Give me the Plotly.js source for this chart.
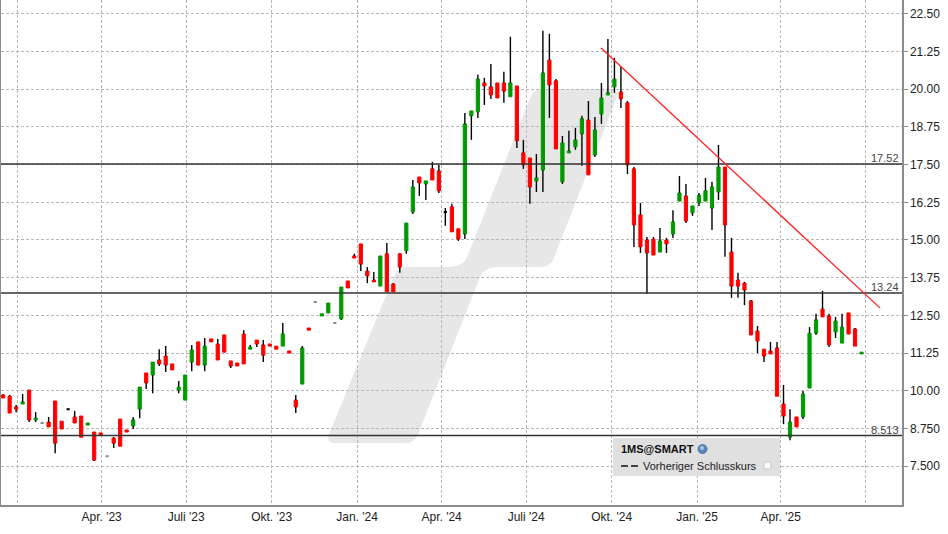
<!DOCTYPE html>
<html><head><meta charset="utf-8">
<script src="https://cdn.plot.ly/plotly-3.0.1.min.js"></script>
<style>html,body{margin:0;padding:0;background:#fff}#chart{width:948px;height:534px}</style>
</head><body><div id="chart"></div>
<script>
// ---- data (weekly candles) ----
const dates = [
'2022-12-16','2022-12-23','2022-12-30',
'2023-01-06','2023-01-13','2023-01-20','2023-01-27','2023-02-03','2023-02-10','2023-02-17','2023-02-24',
'2023-03-03','2023-03-10','2023-03-17','2023-03-24','2023-03-31','2023-04-07','2023-04-14','2023-04-21','2023-04-28',
'2023-05-05','2023-05-12','2023-05-19','2023-05-26','2023-06-02','2023-06-09','2023-06-16','2023-06-23','2023-06-30',
'2023-07-07','2023-07-14','2023-07-21','2023-07-28','2023-08-04','2023-08-11','2023-08-18','2023-08-25',
'2023-09-01','2023-09-08','2023-09-15','2023-09-22','2023-09-29','2023-10-06','2023-10-13','2023-10-20','2023-10-27',
'2023-11-03','2023-11-10','2023-11-17','2023-11-24','2023-12-01','2023-12-08','2023-12-15','2023-12-22','2023-12-29',
'2024-01-05','2024-01-12','2024-01-19','2024-01-26','2024-02-02','2024-02-09','2024-02-16','2024-02-23',
'2024-03-01','2024-03-08','2024-03-15','2024-03-22','2024-03-29','2024-04-05','2024-04-12','2024-04-19','2024-04-26',
'2024-05-03','2024-05-10','2024-05-17','2024-05-24','2024-05-31','2024-06-07','2024-06-14','2024-06-21','2024-06-28',
'2024-07-05','2024-07-12','2024-07-19','2024-07-26','2024-08-02','2024-08-09','2024-08-16','2024-08-23','2024-08-30',
'2024-09-06','2024-09-13','2024-09-20','2024-09-27','2024-10-04','2024-10-11','2024-10-18','2024-10-25',
'2024-11-01','2024-11-08','2024-11-15','2024-11-22','2024-11-29','2024-12-06','2024-12-13','2024-12-20','2024-12-27',
'2025-01-03','2025-01-10','2025-01-17','2025-01-24','2025-01-31','2025-02-07','2025-02-14','2025-02-21','2025-02-28',
'2025-03-07','2025-03-14','2025-03-21','2025-03-28','2025-04-04','2025-04-11','2025-04-18','2025-04-25',
'2025-05-02','2025-05-09','2025-05-16','2025-05-23','2025-05-30','2025-06-06','2025-06-13','2025-06-20','2025-06-27'];

const open = [
9.86,9.82,9.46,9.56,10.02,9.03,8.93,8.96,9.66,8.99,
9.39,9.13,9.16,8.86,8.63,8.60,7.83,8.43,9.06,8.70,
8.83,9.39,10.59,10.52,11.02,11.15,10.89,10.02,9.69,10.95,
11.62,10.85,11.72,11.55,11.85,10.99,10.92,11.88,11.38,11.68,
11.52,11.55,11.48,11.48,11.32,9.69,10.22,12.08,12.94,12.48,
12.58,12.25,12.38,13.64,14.47,14.87,13.97,13.67,13.47,14.54,
13.54,14.54,14.64,15.93,17.09,16.86,17.36,17.29,15.93,16.10,
15.37,15.20,19.12,19.25,20.21,20.08,20.21,20.21,19.75,20.11,
17.89,17.72,16.96,17.32,20.97,20.28,16.93,17.89,18.09,18.52,
18.98,17.82,19.18,19.81,20.08,19.91,19.55,17.36,15.83,15.00,
15.03,14.60,15.00,15.20,16.29,16.46,15.90,16.23,16.29,16.06,
16.59,17.42,14.60,13.67,13.57,12.98,11.98,11.38,11.32,11.42,
9.56,8.46,9.13,9.13,10.09,11.91,12.71,12.48,11.95,11.58,
12.58,12.05,11.22];

const high = [
9.88,9.86,9.53,9.89,10.03,9.29,8.93,9.13,9.66,8.99,
9.40,9.33,9.16,8.93,8.63,8.60,7.83,8.46,9.06,8.70,
9.13,10.12,10.59,10.95,11.38,11.48,10.89,10.32,10.52,11.52,
11.62,11.75,11.72,11.72,11.85,10.99,10.92,12.01,11.52,11.68,
11.68,11.55,11.48,12.25,11.32,9.86,11.48,12.08,12.94,12.55,
12.91,12.25,13.44,13.64,14.54,14.87,14.10,13.94,14.47,14.90,
13.57,14.57,15.56,16.99,17.09,16.96,17.59,17.49,16.06,16.20,
15.37,19.21,19.28,20.48,20.38,20.84,20.21,20.58,21.74,20.11,
18.32,17.72,17.85,21.94,21.84,20.34,18.45,18.62,18.72,19.12,
19.61,19.08,20.21,21.67,21.04,20.74,19.61,17.42,16.23,15.10,
15.10,15.40,15.07,15.99,17.12,16.86,16.13,16.56,17.06,16.93,
18.15,17.42,15.07,13.91,13.61,13.01,12.15,11.38,11.62,11.62,
10.19,9.39,9.13,9.99,12.11,12.55,13.31,12.55,12.45,12.55,
12.58,12.08,11.28];

const low = [
9.76,9.26,9.29,9.56,8.96,8.96,8.93,8.80,7.93,8.73,
9.38,8.93,8.46,8.86,7.67,8.53,7.83,8.10,8.16,8.63,
8.73,9.09,10.06,9.92,10.82,10.62,10.69,9.92,9.69,10.65,
10.85,10.65,11.62,11.02,11.28,10.75,10.82,10.89,11.38,11.45,
10.95,11.48,11.38,11.48,11.25,9.26,10.22,12.01,12.94,12.48,
12.58,12.25,12.35,13.41,14.40,13.97,13.57,13.61,13.47,13.28,
13.28,13.91,14.54,15.86,16.46,16.33,16.99,16.56,15.47,15.27,
14.97,15.03,18.32,19.05,19.48,19.68,19.71,19.55,19.75,18.05,
17.36,16.20,16.59,16.59,19.05,18.02,16.86,17.89,17.99,17.46,
17.16,17.75,18.85,19.81,19.88,19.38,17.19,14.77,14.57,13.21,
14.50,14.60,14.57,15.07,16.29,15.56,15.80,16.13,16.29,15.33,
16.33,14.44,13.08,13.08,12.84,11.85,11.25,10.95,11.22,9.82,
8.89,8.36,8.80,9.06,10.09,11.85,12.45,11.45,11.75,11.58,
11.88,11.48,11.22];

const close = [
9.76,9.26,9.39,9.63,9.03,9.09,8.93,8.80,8.26,8.73,
9.39,8.93,8.46,8.93,7.70,8.53,7.83,8.26,8.16,8.63,
9.03,10.12,10.26,10.95,10.89,10.85,10.69,10.12,10.52,11.35,
10.85,11.48,11.62,11.02,11.28,10.82,10.82,10.89,11.45,11.55,
11.18,11.48,11.38,11.88,11.25,9.46,11.42,12.01,12.94,12.55,
12.91,12.25,13.44,13.41,14.40,14.20,13.81,13.61,14.47,13.28,
13.28,14.10,15.56,16.76,16.89,16.96,16.99,16.63,15.93,15.27,
15.03,18.85,19.28,20.34,20.11,19.81,19.71,19.94,20.21,18.29,
17.49,16.76,17.06,20.54,20.14,18.02,18.22,17.95,18.32,19.02,
17.16,18.65,19.71,19.88,20.34,19.68,17.49,15.50,14.77,14.57,
14.50,14.97,14.87,15.60,16.56,15.63,16.13,16.49,16.63,16.76,
17.42,15.50,13.47,13.47,13.34,11.85,11.65,11.15,11.22,9.82,
9.16,8.96,8.80,9.89,11.91,12.35,12.45,11.52,12.31,12.11,
11.88,11.48,11.28];

const levelValues = [17.52, 13.24, 8.513];
const levelLabels = ['17.52', '13.24', '8.513'];
const trendDates = ['2024-09-19 14:00', '2025-07-17'];
const trendValues = [21.37, 12.74];

const yTickVals = [7.5, 8.75, 10, 11.25, 12.5, 13.75, 15, 16.25, 17.5, 18.75, 20, 21.25, 22.5];
const yTickText = ['7.500','8.750','10.00','11.25','12.50','13.75','15.00','16.25','17.50','18.75','20.00','21.25','22.50'];
const xTickVals = ['2023-01-01','2023-04-01','2023-07-01','2023-10-01','2024-01-01','2024-04-01','2024-07-01','2024-10-01','2025-01-01','2025-04-01','2025-07-01'];
const xTickText = ['', "Apr. '23", "Juli '23", "Okt. '23", "Jan. '24", "Apr. '24", "Juli '24", "Okt. '24", "Jan. '25", "Apr. '25", ''];

const legendTitle = '1MS@SMART';
const legendItem = 'Vorheriger Schlusskurs';

// ---- styling / geometry ----
const UP = '#009a00', DOWN = '#ff0000', GRAY = '#8a8a8a', BLACK = '#000000';
const W = 948, H = 534, M = {l: 1, r: 46, t: 0, b: 29};
const PW = W - M.l - M.r, PH = H - M.t - M.b;
function px(x) { return (x - M.l) / PW; }
function py(y) { return (H - M.b - y) / PH; }

// wicks: upper (high -> body top) and lower (body bottom -> low), so they never cross the bodies
const wx = [], wy = [];
dates.forEach((d, i) => {
  const top = Math.max(open[i], close[i]), bot = Math.min(open[i], close[i]);
  if (high[i] > top) { wx.push(d, d, null); wy.push(high[i], top, null); }
  if (low[i] < bot) { wx.push(d, d, null); wy.push(bot, low[i], null); }
});
const traces = [{
  type: 'scatter', mode: 'lines', x: wx, y: wy,
  line: {color: '#000', width: 1.4}, hoverinfo: 'skip', showlegend: false
}];

function bodyTrace(filter, color, lw) {
  const idx = dates.map((d, i) => i).filter(filter);
  return {
    type: 'candlestick',
    x: idx.map(i => dates[i]),
    open: idx.map(i => open[i]),
    close: idx.map(i => close[i]),
    high: idx.map(i => Math.max(open[i], close[i])),
    low: idx.map(i => Math.min(open[i], close[i])),
    increasing: {line: {color: color, width: lw}, fillcolor: color},
    decreasing: {line: {color: color, width: lw}, fillcolor: color},
    whiskerwidth: 0, hoverinfo: 'skip', showlegend: false
  };
}
traces.push(bodyTrace(i => close[i] > open[i], UP, 1));
traces.push(bodyTrace(i => close[i] < open[i], DOWN, 1));
traces.push(bodyTrace(i => close[i] === open[i] && high[i] === low[i], GRAY, 2));
traces.push(bodyTrace(i => close[i] === open[i] && high[i] > low[i], BLACK, 2));

// watermark path (pixel geometry -> paper)
const wm = [
  ['M', 335, 443], ['Q', 325.5, 443, 329.3, 433.8], ['L', 393.9, 276.2], ['Q', 397.7, 267, 407.7, 267],
  ['L', 450, 267], ['Q', 463, 267, 467.5, 256], ['L', 530.1, 98.3], ['Q', 533.8, 89, 543.8, 89],
  ['L', 610, 89], ['Q', 620, 89, 616.4, 98.3], ['L', 554, 257.7], ['Q', 550.3, 267, 540.3, 267],
  ['L', 497, 267], ['Q', 484, 267, 479.8, 277.5], ['L', 418.3, 433.7], ['Q', 414.6, 443, 404.6, 443], ['Z']
];
const wmPath = wm.map(s => {
  if (s[0] === 'Z') return 'Z';
  let out = s[0];
  for (let k = 1; k < s.length; k += 2) out += (k > 1 ? ' ' : '') + px(s[k]).toFixed(5) + ',' + py(s[k + 1]).toFixed(5);
  return out;
}).join(' ');

const shapes = [
  {type: 'path', xref: 'paper', yref: 'paper', path: wmPath, fillcolor: '#e7e7e7', line: {width: 0}, layer: 'below'}
];
levelValues.forEach(v => shapes.push({
  type: 'line', xref: 'paper', yref: 'y', x0: 0, x1: 1, y0: v, y1: v,
  line: {color: '#333', width: 1.5}, layer: 'above'
}));
shapes.push({type: 'line', xref: 'x', yref: 'y', x0: trendDates[0], x1: trendDates[1], y0: trendValues[0], y1: trendValues[1],
  line: {color: '#ff2020', width: 1.3}, layer: 'above'});
// legend box
shapes.push({type: 'rect', xref: 'paper', yref: 'paper', x0: px(613), x1: px(780), y0: py(476), y1: py(438),
  fillcolor: '#e0e0e0', line: {width: 0}, layer: 'above'});
shapes.push({type: 'circle', xref: 'paper', yref: 'paper', x0: px(698), x1: px(707), y0: py(453.5), y1: py(444.5),
  fillcolor: '#5a87b8', line: {color: '#3d6a9c', width: 0.8}, layer: 'above'});
shapes.push({type: 'circle', xref: 'paper', yref: 'paper', x0: px(700), x1: px(704), y0: py(450), y1: py(446),
  fillcolor: '#a9c6e4', line: {width: 0}, layer: 'above'});
shapes.push({type: 'line', xref: 'paper', yref: 'paper', x0: px(621), x1: px(628), y0: py(466), y1: py(466),
  line: {color: '#444', width: 2}, layer: 'above'});
shapes.push({type: 'line', xref: 'paper', yref: 'paper', x0: px(631), x1: px(638), y0: py(466), y1: py(466),
  line: {color: '#444', width: 2}, layer: 'above'});
shapes.push({type: 'rect', xref: 'paper', yref: 'paper', x0: px(764), x1: px(771), y0: py(469), y1: py(462),
  fillcolor: '#fafafa', line: {color: '#c8c8c8', width: 1}, layer: 'above'});

const annotations = levelValues.map((v, i) => ({
  xref: 'paper', yref: 'y', x: 1, y: v, xanchor: 'right', yanchor: 'bottom', xshift: -1, yshift: -2,
  text: levelLabels[i], showarrow: false, font: {size: 11, color: '#444'}
}));
annotations.push({xref: 'paper', yref: 'paper', x: px(619), y: py(449), xanchor: 'left', yanchor: 'middle',
  text: '<b>' + legendTitle + '</b>', showarrow: false, font: {size: 11, color: '#111'}});
annotations.push({xref: 'paper', yref: 'paper', x: px(641), y: py(466), xanchor: 'left', yanchor: 'middle',
  text: legendItem, showarrow: false, font: {size: 11, color: '#222'}});

const layout = {
  width: W, height: H, margin: M,
  paper_bgcolor: '#fff', plot_bgcolor: '#fff',
  font: {family: 'Liberation Sans, Arial, sans-serif', size: 12, color: '#222'},
  showlegend: false, boxgap: 0.3, boxmode: 'overlay',
  xaxis: {
    type: 'date', range: ['2022-12-13 17:00', '2025-08-09 13:00'],
    tickmode: 'array', tickvals: xTickVals, ticktext: xTickText,
    showgrid: true, gridcolor: '#b8b8b8', griddash: '3px,2px', gridwidth: 1,
    showline: true, linecolor: '#8c8c8c', linewidth: 1.5, ticks: '', zeroline: false,
    rangeslider: {visible: false}, fixedrange: true
  },
  yaxis: {
    side: 'right', range: [6.21, 22.96],
    tickmode: 'array', tickvals: yTickVals, ticktext: yTickText,
    showgrid: true, gridcolor: '#b8b8b8', griddash: '3px,2px', gridwidth: 1,
    showline: true, mirror: true, linecolor: '#8c8c8c', linewidth: 1.5,
    ticks: 'outside', ticklen: 4, tickcolor: '#8c8c8c', zeroline: false, fixedrange: true
  },
  shapes: shapes, annotations: annotations
};

Plotly.newPlot('chart', traces, layout, {displayModeBar: false, staticPlot: true});
</script>
</body></html>
